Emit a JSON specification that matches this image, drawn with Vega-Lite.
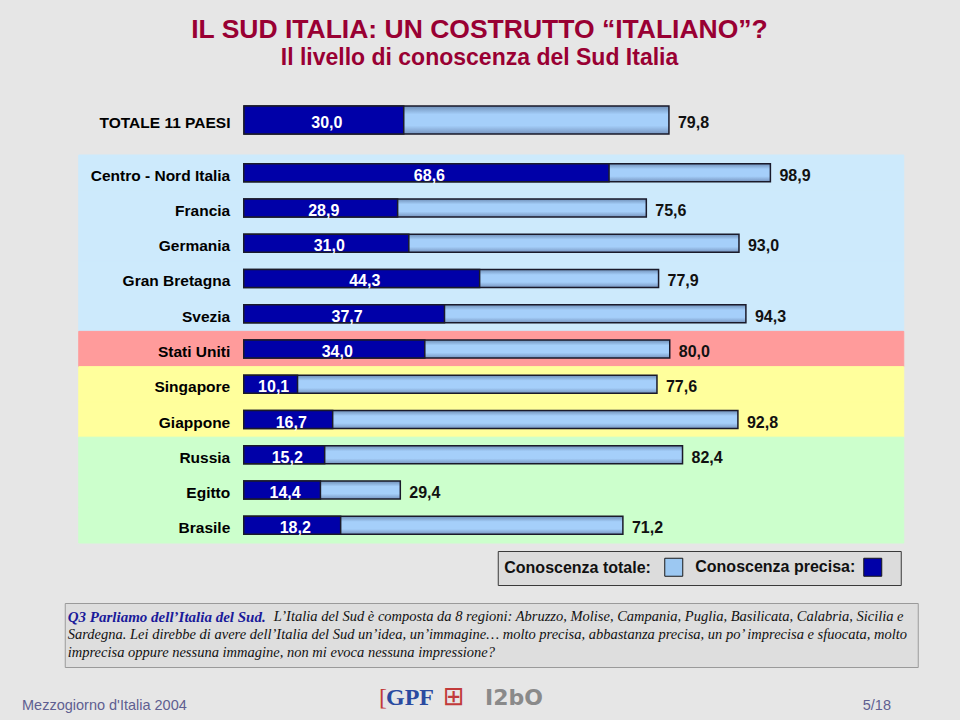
{
  "$schema": "https://vega.github.io/schema/vega-lite/v6.json",
  "background": "#e6e6e6",
  "padding": {"left": 22, "top": 16, "right": 0, "bottom": 14},
  "config": {
    "locale": {"number": {"decimal": ",", "thousands": ".", "grouping": [3], "currency": ["", " €"]}},
    "view": {"stroke": null},
    "font": "Liberation Sans"
  },
  "title": {
    "text": "IL SUD ITALIA: UN COSTRUTTO “ITALIANO”?",
    "subtitle": "Il livello di conoscenza del Sud Italia",
    "font": "Liberation Sans", "fontSize": 26.5, "fontWeight": "bold", "color": "#990033",
    "subtitleFont": "Liberation Sans", "subtitleFontSize": 23, "subtitleFontWeight": "bold", "subtitleColor": "#990033",
    "subtitlePadding": 4, "anchor": "middle", "offset": 32, "dx": -12
  },
  "datasets": {
    "totale": [
      {"paese": "TOTALE 11 PAESI", "precisa": 30.0, "totale": 79.8}
    ],
    "paesi": [
      {"paese": "Centro - Nord Italia", "gruppo": "Europa", "precisa": 68.6, "totale": 98.9},
      {"paese": "Francia", "gruppo": "Europa", "precisa": 28.9, "totale": 75.6},
      {"paese": "Germania", "gruppo": "Europa", "precisa": 31.0, "totale": 93.0},
      {"paese": "Gran Bretagna", "gruppo": "Europa", "precisa": 44.3, "totale": 77.9},
      {"paese": "Svezia", "gruppo": "Europa", "precisa": 37.7, "totale": 94.3},
      {"paese": "Stati Uniti", "gruppo": "Nord America", "precisa": 34.0, "totale": 80.0},
      {"paese": "Singapore", "gruppo": "Asia", "precisa": 10.1, "totale": 77.6},
      {"paese": "Giappone", "gruppo": "Asia", "precisa": 16.7, "totale": 92.8},
      {"paese": "Russia", "gruppo": "Altri", "precisa": 15.2, "totale": 82.4},
      {"paese": "Egitto", "gruppo": "Altri", "precisa": 14.4, "totale": 29.4},
      {"paese": "Brasile", "gruppo": "Altri", "precisa": 18.2, "totale": 71.2}
    ],
    "legenda": [
      {"misura": "totale"},
      {"misura": "precisa"}
    ],
    "nota": [
      {"riga": 1, "parte": "domanda", "testo": "Q3 Parliamo dell’Italia del Sud."},
      {"riga": 1, "parte": "inizio", "testo": "L’Italia del Sud è composta da 8 regioni: Abruzzo, Molise, Campania, Puglia, Basilicata, Calabria, Sicilia e"},
      {"riga": 2, "parte": "testo", "testo": "Sardegna. Lei direbbe di avere dell’Italia del Sud un’idea, un’immagine… molto precisa, abbastanza precisa, un po’ imprecisa e sfuocata, molto"},
      {"riga": 3, "parte": "testo", "testo": "imprecisa oppure nessuna immagine, non mi evoca nessuna impressione?"}
    ]
  },
  "spacing": 16,
  "center": true,
  "bounds": "full",
  "resolve": {"scale": {"x": "independent", "y": "independent", "color": "independent", "fill": "independent", "stroke": "independent"}},
  "vconcat": [
    {
      "width": 825,
      "height": 36,
      "data": {"name": "totale"},
      "resolve": {"scale": {"x": "independent"}},
      "layer": [
        {
          "mark": {"type": "bar", "size": 28, "stroke": "#1a1a2a", "strokeWidth": 1.5,
            "fill": {"gradient": "linear", "x1": 0, "y1": 0, "x2": 0, "y2": 1, "stops": [{"offset": 0, "color": "#6f8fb8"}, {"offset": 0.3, "color": "#a5cffa"}, {"offset": 0.7, "color": "#a5cffa"}, {"offset": 1, "color": "#7795c0"}]}},
          "encoding": {
            "y": {"field": "paese", "type": "nominal", "sort": null, "scale": {"paddingInner": 0, "paddingOuter": 0},
              "axis": {"title": null, "domain": false, "ticks": false, "tickSize": 0, "labelPadding": 0, "offset": -151, "labelFont": "Liberation Sans", "labelFontSize": 15.5, "labelFontWeight": "bold", "labelColor": "#000000", "labelAlign": "right", "labelBaseline": "middle", "labelOffset": 3, "labelLimit": 300, "zindex": 1}},
            "x": {"field": "totale", "type": "quantitative", "scale": {"domain": [-30.986, 123.944], "nice": false, "zero": false}, "axis": null}
          }
        },
        {
          "mark": {"type": "bar", "size": 28, "stroke": "#1a1a2a", "strokeWidth": 1.5, "fill": "#0000a8"},
          "encoding": {
            "y": {"field": "paese", "type": "nominal", "sort": null, "scale": {"paddingInner": 0, "paddingOuter": 0},
              "axis": {"title": null, "domain": false, "ticks": false, "tickSize": 0, "labelPadding": 0, "offset": -151, "labelFont": "Liberation Sans", "labelFontSize": 15.5, "labelFontWeight": "bold", "labelColor": "#000000", "labelAlign": "right", "labelBaseline": "middle", "labelOffset": 3, "labelLimit": 300, "zindex": 1}},
            "x": {"field": "precisa", "type": "quantitative", "scale": {"domain": [-30.986, 123.944], "nice": false, "zero": false}, "axis": null}
          }
        },
        {
          "mark": {"type": "text", "align": "left", "baseline": "middle", "dx": 9, "dy": 3, "fontSize": 16, "fontWeight": "bold", "color": "#111111"},
          "encoding": {
            "y": {"field": "paese", "type": "nominal", "sort": null, "scale": {"paddingInner": 0, "paddingOuter": 0},
              "axis": {"title": null, "domain": false, "ticks": false, "tickSize": 0, "labelPadding": 0, "offset": -151, "labelFont": "Liberation Sans", "labelFontSize": 15.5, "labelFontWeight": "bold", "labelColor": "#000000", "labelAlign": "right", "labelBaseline": "middle", "labelOffset": 3, "labelLimit": 300, "zindex": 1}},
            "x": {"field": "totale", "type": "quantitative", "scale": {"domain": [-30.986, 123.944], "nice": false, "zero": false}, "axis": null},
            "text": {"field": "totale", "type": "quantitative", "format": ".1f"}
          }
        },
        {
          "mark": {"type": "text", "align": "center", "baseline": "middle", "dx": 3, "dy": 3, "fontSize": 16, "fontWeight": "bold", "color": "#ffffff"},
          "encoding": {
            "y": {"field": "paese", "type": "nominal", "sort": null, "scale": {"paddingInner": 0, "paddingOuter": 0},
              "axis": {"title": null, "domain": false, "ticks": false, "tickSize": 0, "labelPadding": 0, "offset": -151, "labelFont": "Liberation Sans", "labelFontSize": 15.5, "labelFontWeight": "bold", "labelColor": "#000000", "labelAlign": "right", "labelBaseline": "middle", "labelOffset": 3, "labelLimit": 300, "zindex": 1}},
            "x": {"field": "precisa", "type": "quantitative", "scale": {"domain": [-61.972, 247.888], "nice": false, "zero": false}, "axis": null},
            "text": {"field": "precisa", "type": "quantitative", "format": ".1f"}
          }
        }
      ]
    },
    {
      "width": 825,
      "height": 388,
      "resolve": {"scale": {"x": "independent"}},
      "layer": [
        {
          "data": {"name": "paesi"},
          "mark": {"type": "rect", "strokeWidth": 1},
          "encoding": {
            "y": {"field": "paese", "type": "nominal", "sort": null, "scale": {"paddingInner": 0, "paddingOuter": 0},
              "axis": {"title": null, "domain": false, "ticks": false, "tickSize": 0, "labelPadding": 0, "offset": -151, "labelFont": "Liberation Sans", "labelFontSize": 15.5, "labelFontWeight": "bold", "labelColor": "#000000", "labelAlign": "right", "labelBaseline": "middle", "labelOffset": 3, "labelLimit": 300, "zindex": 1}},
            "fill": {"field": "gruppo", "type": "nominal", "scale": {"domain": ["Europa", "Nord America", "Asia", "Altri"], "range": ["#cdeafc", "#ff9b9b", "#ffff9c", "#ccffcc"]}, "legend": null},
            "stroke": {"field": "gruppo", "type": "nominal", "scale": {"domain": ["Europa", "Nord America", "Asia", "Altri"], "range": ["#cdeafc", "#ff9b9b", "#ffff9c", "#ccffcc"]}, "legend": null}
          }
        },
        {
          "data": {"name": "paesi"},
          "mark": {"type": "bar", "size": 18, "stroke": "#1a1a2a", "strokeWidth": 1.5,
            "fill": {"gradient": "linear", "x1": 0, "y1": 0, "x2": 0, "y2": 1, "stops": [{"offset": 0, "color": "#6f8fb8"}, {"offset": 0.3, "color": "#a5cffa"}, {"offset": 0.7, "color": "#a5cffa"}, {"offset": 1, "color": "#7795c0"}]}},
          "encoding": {
            "y": {"field": "paese", "type": "nominal", "sort": null, "scale": {"paddingInner": 0, "paddingOuter": 0},
              "axis": {"title": null, "domain": false, "ticks": false, "tickSize": 0, "labelPadding": 0, "offset": -151, "labelFont": "Liberation Sans", "labelFontSize": 15.5, "labelFontWeight": "bold", "labelColor": "#000000", "labelAlign": "right", "labelBaseline": "middle", "labelOffset": 3, "labelLimit": 300, "zindex": 1}},
            "x": {"field": "totale", "type": "quantitative", "scale": {"domain": [-30.986, 123.944], "nice": false, "zero": false}, "axis": null}
          }
        },
        {
          "data": {"name": "paesi"},
          "mark": {"type": "bar", "size": 18, "stroke": "#1a1a2a", "strokeWidth": 1.5, "fill": "#0000a8"},
          "encoding": {
            "y": {"field": "paese", "type": "nominal", "sort": null, "scale": {"paddingInner": 0, "paddingOuter": 0},
              "axis": {"title": null, "domain": false, "ticks": false, "tickSize": 0, "labelPadding": 0, "offset": -151, "labelFont": "Liberation Sans", "labelFontSize": 15.5, "labelFontWeight": "bold", "labelColor": "#000000", "labelAlign": "right", "labelBaseline": "middle", "labelOffset": 3, "labelLimit": 300, "zindex": 1}},
            "x": {"field": "precisa", "type": "quantitative", "scale": {"domain": [-30.986, 123.944], "nice": false, "zero": false}, "axis": null}
          }
        },
        {
          "data": {"name": "paesi"},
          "mark": {"type": "text", "align": "left", "baseline": "middle", "dx": 9, "dy": 3, "fontSize": 16, "fontWeight": "bold", "color": "#111111"},
          "encoding": {
            "y": {"field": "paese", "type": "nominal", "sort": null, "scale": {"paddingInner": 0, "paddingOuter": 0},
              "axis": {"title": null, "domain": false, "ticks": false, "tickSize": 0, "labelPadding": 0, "offset": -151, "labelFont": "Liberation Sans", "labelFontSize": 15.5, "labelFontWeight": "bold", "labelColor": "#000000", "labelAlign": "right", "labelBaseline": "middle", "labelOffset": 3, "labelLimit": 300, "zindex": 1}},
            "x": {"field": "totale", "type": "quantitative", "scale": {"domain": [-30.986, 123.944], "nice": false, "zero": false}, "axis": null},
            "text": {"field": "totale", "type": "quantitative", "format": ".1f"}
          }
        },
        {
          "data": {"name": "paesi"},
          "mark": {"type": "text", "align": "center", "baseline": "middle", "dx": 3, "dy": 3, "fontSize": 16, "fontWeight": "bold", "color": "#ffffff"},
          "encoding": {
            "y": {"field": "paese", "type": "nominal", "sort": null, "scale": {"paddingInner": 0, "paddingOuter": 0},
              "axis": {"title": null, "domain": false, "ticks": false, "tickSize": 0, "labelPadding": 0, "offset": -151, "labelFont": "Liberation Sans", "labelFontSize": 15.5, "labelFontWeight": "bold", "labelColor": "#000000", "labelAlign": "right", "labelBaseline": "middle", "labelOffset": 3, "labelLimit": 300, "zindex": 1}},
            "x": {"field": "precisa", "type": "quantitative", "scale": {"domain": [-61.972, 247.888], "nice": false, "zero": false}, "axis": null},
            "text": {"field": "precisa", "type": "quantitative", "format": ".1f"}
          }
        },
        {
          "data": {"name": "legenda"},
          "mark": {"type": "point", "opacity": 0, "filled": true, "shape": "square"},
          "encoding": {
            "color": {"field": "misura", "type": "nominal", "scale": {"domain": ["totale", "precisa"], "range": ["#9cc8f2", "#0000a8"]},
              "legend": {"orient": "none", "legendX": 419, "legendY": 396, "direction": "horizontal",
                "title": "Conoscenza totale:", "titleOrient": "left", "titleFont": "Liberation Sans", "titleFontSize": 16, "titleFontWeight": "bold", "titleColor": "#111111", "titlePadding": 13,
                "symbolType": "square", "symbolSize": 324, "symbolStrokeColor": "#1a1a1a", "symbolStrokeWidth": 1, "symbolOpacity": 1,
                "labelFont": "Liberation Sans", "labelFontSize": 16, "labelFontWeight": "bold", "labelColor": "#111111",
                "labelOffset": 12, "labelLimit": 300, "columnPadding": 5, "padding": 6.5,
                "fillColor": "#dcdcdc", "strokeColor": "#3a3a3a",
                "labelExpr": "datum.label == 'totale' ? 'Conoscenza precisa:' : ''"}}
          }
        }
      ]
    },
    {
      "width": 853,
      "height": 64,
      "view": {"fill": "#dedede", "stroke": "#9a9a9a", "strokeWidth": 1},
      "data": {"name": "nota"},
      "layer": [
        {
          "transform": [{"filter": "datum.parte == 'domanda'"}],
          "mark": {"type": "text", "align": "left", "baseline": "middle", "x": 3, "font": "Liberation Serif", "fontStyle": "italic", "fontWeight": "bold", "fontSize": 15, "color": "#1a1a9a"},
          "encoding": {
            "y": {"field": "riga", "type": "ordinal", "scale": {"type": "point", "padding": 0.778}, "axis": null},
            "text": {"field": "testo", "type": "nominal"}
          }
        },
        {
          "transform": [{"filter": "datum.parte == 'inizio'"}],
          "mark": {"type": "text", "align": "left", "baseline": "middle", "x": 3, "dx": 206, "font": "Liberation Serif", "fontStyle": "italic", "fontSize": 14.5, "color": "#111111"},
          "encoding": {
            "y": {"field": "riga", "type": "ordinal", "scale": {"type": "point", "padding": 0.778}, "axis": null},
            "text": {"field": "testo", "type": "nominal"}
          }
        },
        {
          "transform": [{"filter": "datum.parte == 'testo'"}],
          "mark": {"type": "text", "align": "left", "baseline": "middle", "x": 3, "font": "Liberation Serif", "fontStyle": "italic", "fontSize": 14.5, "color": "#111111"},
          "encoding": {
            "y": {"field": "riga", "type": "ordinal", "scale": {"type": "point", "padding": 0.778}, "axis": null},
            "text": {"field": "testo", "type": "nominal"}
          }
        }
      ]
    },
    {
      "width": 939,
      "height": 24,
      "layer": [
        {
          "data": {"values": [{"testo": "Mezzogiorno d'Italia 2004"}]},
          "mark": {"type": "text", "align": "left", "baseline": "alphabetic", "x": 0, "y": 17, "fontSize": 14.5, "color": "#5f5f91"},
          "encoding": {"text": {"field": "testo", "type": "nominal"}}
        },
        {
          "data": {"values": [{"testo": "5/18"}]},
          "mark": {"type": "text", "align": "right", "baseline": "alphabetic", "x": 869, "y": 17, "fontSize": 14.5, "color": "#5f5f91"},
          "encoding": {"text": {"field": "testo", "type": "nominal"}}
        },
        {
          "data": {"values": [{"testo": "["}]},
          "mark": {"type": "text", "align": "left", "baseline": "alphabetic", "x": 357, "y": 12, "font": "Liberation Serif", "fontSize": 24, "color": "#c23a3a"},
          "encoding": {"text": {"field": "testo", "type": "nominal"}}
        },
        {
          "data": {"values": [{"testo": "GPF"}]},
          "mark": {"type": "text", "align": "left", "baseline": "alphabetic", "x": 364, "y": 12, "font": "Liberation Serif", "fontWeight": "bold", "fontSize": 24, "color": "#2a4aa0"},
          "encoding": {"text": {"field": "testo", "type": "nominal"}}
        },
        {
          "data": {"values": [{"testo": "⊞"}]},
          "mark": {"type": "text", "align": "left", "baseline": "alphabetic", "x": 421, "y": 12, "font": "DejaVu Sans", "fontSize": 26, "color": "#c23a3a"},
          "encoding": {"text": {"field": "testo", "type": "nominal"}}
        },
        {
          "data": {"values": [{"testo": "I2bO"}]},
          "mark": {"type": "text", "align": "left", "baseline": "alphabetic", "x": 463, "y": 12, "font": "DejaVu Sans", "fontWeight": "bold", "fontSize": 22, "color": "#8a8a8a"},
          "encoding": {"text": {"field": "testo", "type": "nominal"}}
        }
      ]
    }
  ]
}
